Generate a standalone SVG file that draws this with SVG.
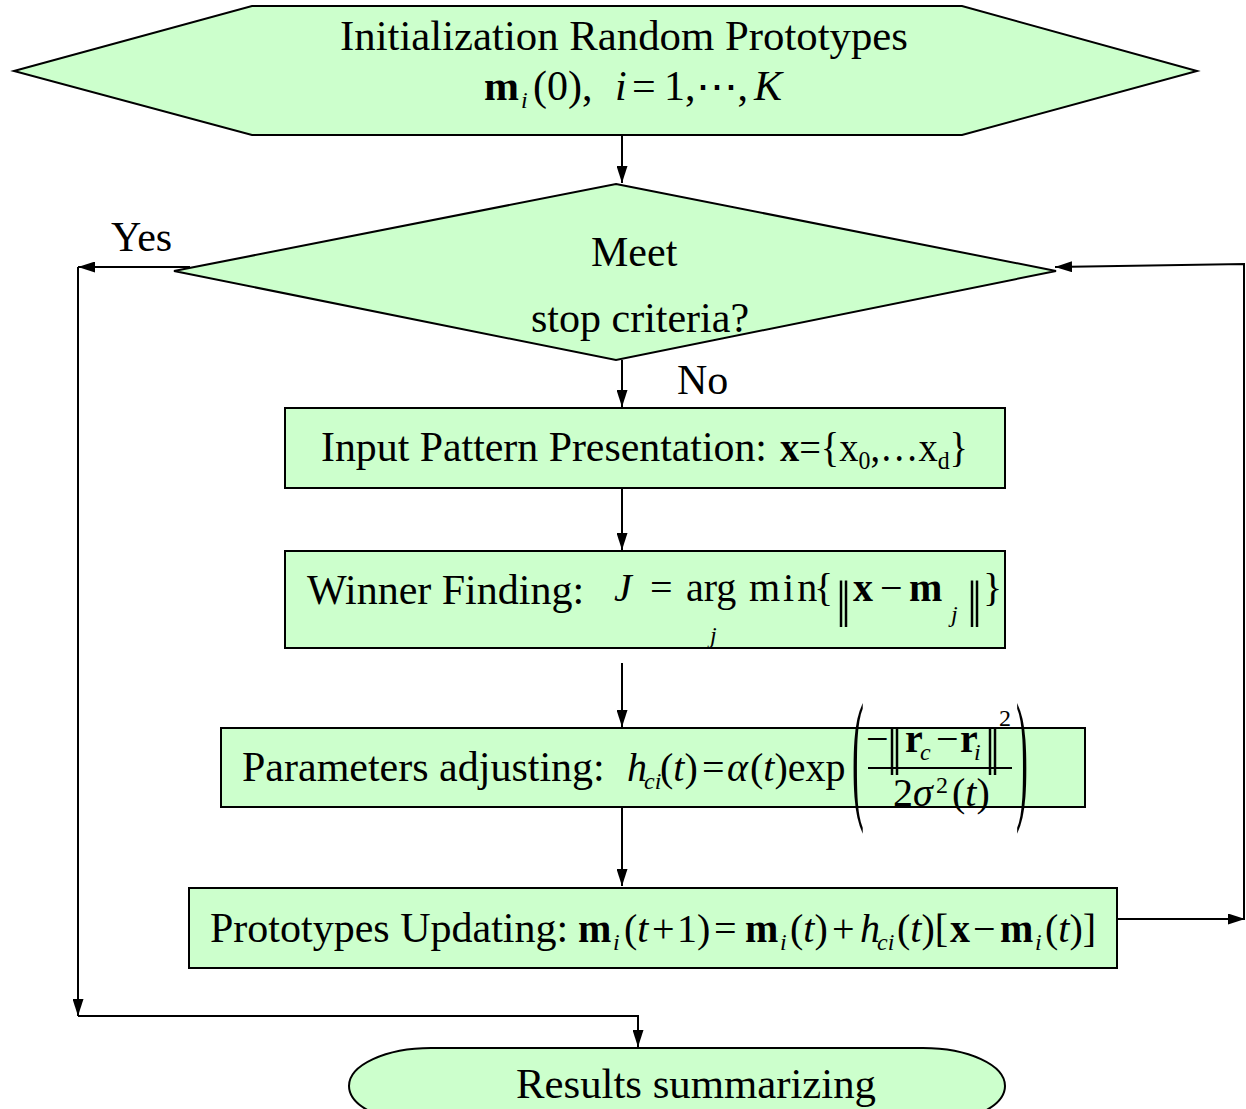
<svg xmlns="http://www.w3.org/2000/svg" width="1246" height="1109" viewBox="0 0 1246 1109">
  <defs>
    <marker id="arrow" viewBox="0 0 17 11" refX="17" refY="5.5" markerWidth="17" markerHeight="11" orient="auto" markerUnits="userSpaceOnUse">
      <path d="M0,0 L17,5.5 L0,11 z" fill="#000"/>
    </marker>
    <style>
      .shape { fill: #ccffcc; stroke: #000; stroke-width: 2; }
      .conn { fill: none; stroke: #000; stroke-width: 2; marker-end: url(#arrow); }
      .plain { fill: none; stroke: #000; stroke-width: 2; }
      text { font-family: "Liberation Serif", "Times New Roman", serif; fill: #000; }
      .lbl { font-size: 42px; }
      .mth { font-size: 40px; }
      .sub { font-size: 24px; }
      .b { font-weight: bold; }
      .i { font-style: italic; }
      .nrm { font-size: 50px; letter-spacing: -5px; }
    </style>
  </defs>
  <rect width="1246" height="1109" fill="#fff"/>

  <g id="connectors">
    <path class="conn" d="M622,135 V183"/>
    <path class="conn" d="M622,360 V407"/>
    <path class="conn" d="M622,488 V550"/>
    <path class="conn" d="M622,663 V727"/>
    <path class="conn" d="M622,807 V886"/>
    <path class="conn" d="M190,267 H78"/>
    <path class="conn" d="M78,267 V1016"/>
    <path class="conn" d="M78,1016 H638 V1047"/>
    <path class="conn" d="M1117,919 H1245"/>
    <path class="conn" d="M1244,919 V264 L1055,267"/>
    <text class="lbl" x="111" y="251">Yes</text>
    <text class="lbl" x="677" y="394">No</text>
  </g>

  <g id="init">
    <polygon class="shape" points="14,71 252,6 962,6 1197,71 962,135 252,135"/>
    <text class="lbl" x="340" y="50" textLength="568" lengthAdjust="spacingAndGlyphs">Initialization Random Prototypes</text>
    <text class="lbl b" x="484" y="100">m</text>
    <text class="sub i" x="521" y="108">i</text>
    <text class="lbl" x="533" y="100">(0),</text>
    <text class="lbl i" x="615" y="100">i</text>
    <text class="lbl" x="632" y="100">=</text>
    <text class="lbl" x="664" y="100">1,⋯,</text>
    <text class="lbl i" x="754" y="100">K</text>
  </g>

  <g id="stop">
    <polygon class="shape" points="616,184 1056,271 616,360 174,271"/>
    <text class="lbl" x="591" y="266">Meet</text>
    <text class="lbl" x="531" y="332">stop criteria?</text>
  </g>

  <g id="input">
    <rect class="shape" x="285" y="408" width="720" height="80"/>
    <text class="lbl" x="321" y="461" textLength="446" lengthAdjust="spacingAndGlyphs">Input Pattern Presentation:</text>
    <text class="lbl" x="780" y="461" textLength="188" lengthAdjust="spacingAndGlyphs"><tspan class="b">x</tspan>={x<tspan font-size="26" dy="8">0</tspan><tspan dy="-8">,…x</tspan><tspan font-size="26" dy="8">d</tspan><tspan dy="-8">}</tspan></text>
  </g>

  <g id="winner">
    <rect class="shape" x="285" y="551" width="720" height="97"/>
    <text class="lbl" x="307" y="604">Winner Finding:</text>
    <text class="mth i" x="614" y="601">J</text>
    <text class="mth" x="650" y="601">=</text>
    <text class="mth" x="686" y="601">arg</text>
    <text class="sub i" x="710" y="643">j</text>
    <text class="mth" x="749" y="601" letter-spacing="3">min</text>
    <text class="mth" x="814" y="601">{</text>
    <text class="nrm" x="836" y="616">||</text>
    <text class="mth b" x="853" y="601">x</text>
    <text class="mth" x="880" y="601">−</text>
    <text class="mth b" x="909" y="601">m</text>
    <text class="sub i" x="951" y="622" font-size="22">j</text>
    <text class="nrm" x="967" y="616">||</text>
    <text class="mth" x="983" y="601">}</text>
  </g>

  <g id="adjust">
    <rect class="shape" x="221" y="728" width="864" height="79"/>
    <text class="lbl" x="242" y="781">Parameters adjusting:</text>
    <text class="mth i" x="627" y="781">h</text>
    <text class="sub i" x="644" y="789">ci</text>
    <text class="mth" x="660" y="781">(<tspan class="i">t</tspan>)</text>
    <text class="mth" x="702" y="781">=</text>
    <text class="mth i" x="727" y="781">α</text>
    <text class="mth" x="750" y="781">(<tspan class="i">t</tspan>)exp</text>
    <text transform="translate(852,803) scale(0.25,1)" font-size="143">(</text>
    <text transform="translate(1016,803) scale(0.25,1)" font-size="143">)</text>
    <text class="mth" x="866" y="752">−</text>
    <text class="nrm" x="887" y="764">||</text>
    <text class="mth b" x="905" y="752">r</text>
    <text class="sub i" x="920" y="760">c</text>
    <text class="mth" x="936" y="752">−</text>
    <text class="mth b" x="960" y="752">r</text>
    <text class="sub i" x="974" y="760">i</text>
    <text class="nrm" x="985" y="764">||</text>
    <text class="sub" x="999" y="726">2</text>
    <line class="plain" x1="868" y1="768" x2="1012" y2="768"/>
    <text class="mth" x="893" y="806">2<tspan class="i">σ</tspan></text>
    <text class="sub" x="936" y="793">2</text>
    <text class="mth" x="952" y="806">(<tspan class="i">t</tspan>)</text>
  </g>

  <g id="update">
    <rect class="shape" x="189" y="888" width="928" height="80"/>
    <text class="lbl" x="210" y="942">Prototypes Updating:</text>
    <text class="mth b" x="578" y="942">m</text>
    <text class="sub i" x="613" y="950">i</text>
    <text class="mth" x="624" y="942">(<tspan class="i">t</tspan></text>
    <text class="mth" x="652" y="942">+</text>
    <text class="mth" x="677" y="942">1)</text>
    <text class="mth" x="714" y="942">=</text>
    <text class="mth b" x="745" y="942">m</text>
    <text class="sub i" x="780" y="950">i</text>
    <text class="mth" x="790" y="942">(<tspan class="i">t</tspan>)</text>
    <text class="mth" x="832" y="942">+</text>
    <text class="mth i" x="860" y="942">h</text>
    <text class="sub i" x="877" y="950">ci</text>
    <text class="mth" x="897" y="942">(<tspan class="i">t</tspan>)[</text>
    <text class="mth b" x="950" y="942">x</text>
    <text class="mth" x="973" y="942">−</text>
    <text class="mth b" x="1000" y="942">m</text>
    <text class="sub i" x="1035" y="950">i</text>
    <text class="mth" x="1045" y="942">(<tspan class="i">t</tspan>)]</text>
  </g>

  <g id="results">
    <rect class="shape" x="349" y="1048" width="656" height="76" rx="82" ry="38"/>
    <text class="lbl" x="516" y="1098" textLength="360" lengthAdjust="spacingAndGlyphs">Results summarizing</text>
  </g>
</svg>
